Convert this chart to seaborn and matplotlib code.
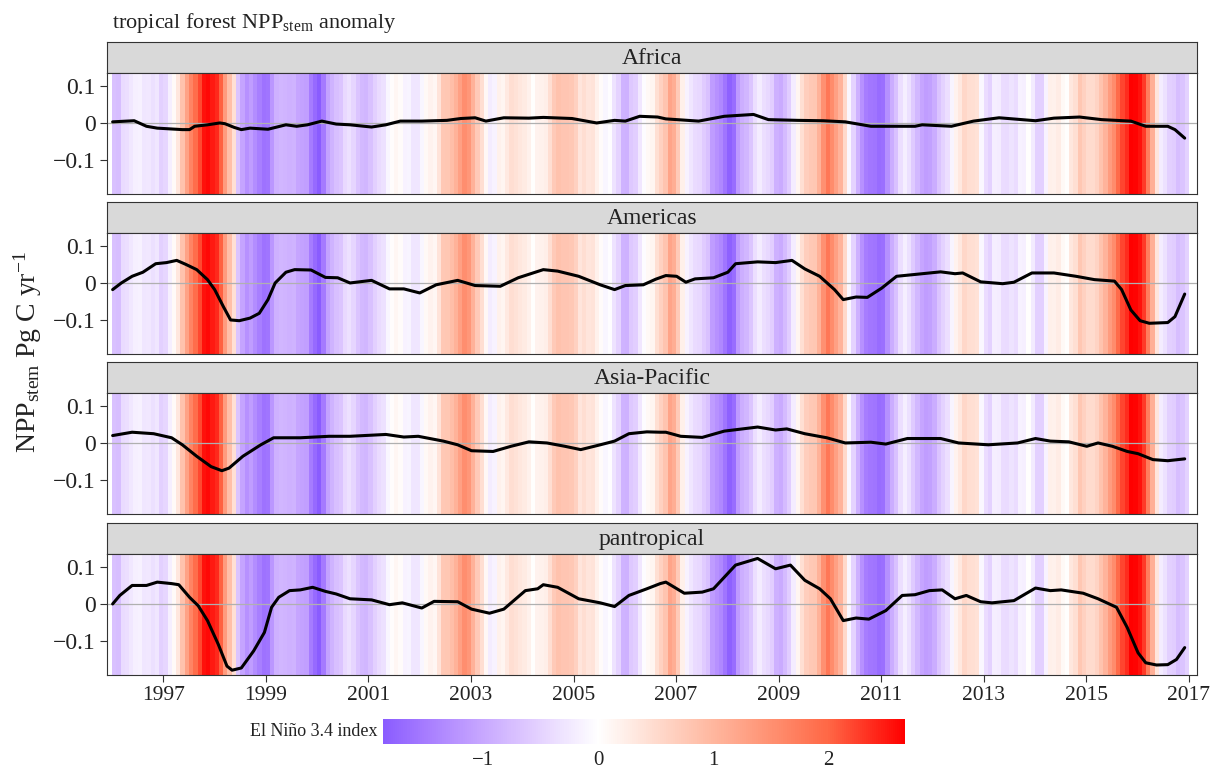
import numpy as np
import matplotlib
matplotlib.use("Agg")
import matplotlib.pyplot as plt
import seaborn as sns
from matplotlib.colors import LinearSegmentedColormap, Normalize

sns.set_theme(style="white")
plt.rcParams["font.family"] = ["Liberation Serif", "DejaVu Serif"]
plt.rcParams["mathtext.fontset"] = "custom"
plt.rcParams["mathtext.rm"] = "Liberation Serif"
plt.rcParams["mathtext.it"] = "Liberation Serif:italic"
plt.rcParams["axes.unicode_minus"] = True

W, H = 1223, 769
TXT = "#222222"
EDGE = "#333333"

regions = ["Africa", "Americas", "Asia-Pacific", "pantropical"]

# El Nino 3.4 index, monthly, Jan 1996 .. Dec 2016 (one row per year)
nino34 = [
    -0.70, -0.74, -0.40, -0.38, -0.26, -0.17, -0.15, -0.29, -0.27, -0.35, -0.29, -0.53,
    -0.46, -0.18, 0.08, 0.33, 0.85, 1.27, 1.65, 1.94, 2.20, 2.55, 2.60, 2.50,
    2.40, 2.04, 1.37, 0.89, 0.43, -0.68, -1.04, -1.26, -1.11, -1.32, -1.47, -1.61,
    -1.58, -1.18, -0.89, -0.84, -0.85, -0.88, -0.87, -1.02, -1.07, -1.10, -1.51, -1.70,
    -1.87, -1.52, -1.06, -0.87, -0.73, -0.65, -0.42, -0.33, -0.47, -0.67, -0.80, -0.84,
    -0.70, -0.53, -0.40, -0.34, -0.11, 0.04, 0.12, 0.06, -0.14, -0.12, -0.29, -0.28,
    -0.11, 0.09, 0.18, 0.13, 0.39, 0.77, 0.78, 0.90, 1.07, 1.29, 1.52, 1.42,
    1.07, 0.72, 0.46, 0.10, -0.22, -0.14, 0.20, 0.14, 0.30, 0.46, 0.41, 0.34,
    0.28, 0.19, 0.02, 0.17, 0.19, 0.23, 0.46, 0.72, 0.85, 0.80, 0.80, 0.77,
    0.64, 0.36, 0.46, 0.35, 0.39, 0.20, 0.05, -0.10, -0.01, -0.31, -0.50, -0.87,
    -0.89, -0.62, -0.54, -0.27, -0.03, 0.09, 0.14, 0.44, 0.64, 0.81, 1.24, 1.12,
    0.72, 0.22, -0.14, -0.28, -0.41, -0.44, -0.58, -0.70, -1.13, -1.26, -1.36, -1.58,
    -1.80, -1.67, -1.16, -0.93, -0.84, -0.66, -0.37, -0.22, -0.38, -0.45, -0.55, -0.88,
    -0.96, -0.78, -0.57, -0.21, 0.15, 0.44, 0.67, 0.77, 0.79, 1.06, 1.50, 1.81,
    1.56, 1.30, 1.05, 0.54, -0.09, -0.50, -0.89, -1.26, -1.48, -1.56, -1.57, -1.68,
    -1.65, -1.27, -0.94, -0.70, -0.37, -0.19, -0.36, -0.61, -0.82, -1.02, -1.12, -1.08,
    -0.94, -0.67, -0.51, -0.38, -0.13, 0.18, 0.32, 0.55, 0.46, 0.44, 0.41, -0.08,
    -0.39, -0.52, -0.20, -0.21, -0.39, -0.40, -0.31, -0.39, -0.16, -0.18, 0.01, -0.23,
    -0.53, -0.53, -0.14, 0.22, 0.19, 0.26, 0.09, 0.01, 0.33, 0.44, 0.79, 0.64,
    0.49, 0.50, 0.61, 0.83, 1.05, 1.35, 1.56, 1.96, 2.21, 2.37, 2.67, 2.65,
    2.55, 2.28, 1.74, 1.10, 0.36, -0.22, -0.33, -0.53, -0.57, -0.74, -0.67, -0.51,
]

africa_yr = [1996.01, 1996.43, 1996.67, 1996.88, 1997.37, 1997.51, 1997.61, 1997.86, 1998.10, 1998.20,
             1998.38, 1998.52, 1998.69, 1999.04, 1999.39, 1999.60, 1999.81, 2000.09, 2000.37, 2000.64,
             2001.06, 2001.34, 2001.62, 2002.04, 2002.53, 2002.80, 2003.08, 2003.29, 2003.64, 2004.13,
             2004.41, 2004.97, 2005.45, 2005.80, 2006.01, 2006.29, 2006.64, 2006.80, 2007.44, 2007.94,
             2008.51, 2008.80, 2009.37, 2009.87, 2010.30, 2010.80, 2011.66, 2011.80, 2012.37, 2012.80,
             2013.30, 2014.01, 2014.37, 2014.87, 2015.30, 2015.87, 2016.16, 2016.59, 2016.73, 2016.92]
africa_npp = [0.003, 0.006, -0.009, -0.014, -0.018, -0.018, -0.009, -0.005, 0.000, -0.002,
              -0.012, -0.018, -0.014, -0.017, -0.005, -0.009, -0.005, 0.005, -0.003, -0.005,
              -0.011, -0.005, 0.005, 0.005, 0.007, 0.012, 0.014, 0.005, 0.014, 0.013,
              0.015, 0.012, 0.000, 0.007, 0.005, 0.018, 0.016, 0.011, 0.005, 0.018,
              0.023, 0.009, 0.007, 0.006, 0.003, -0.009, -0.009, -0.005, -0.009, 0.005,
              0.014, 0.006, 0.013, 0.016, 0.009, 0.005, -0.009, -0.009, -0.018, -0.041]

americas_yr = [1996.01, 1996.18, 1996.39, 1996.60, 1996.85, 1997.06, 1997.26, 1997.44, 1997.65, 1997.86,
               1998.00, 1998.17, 1998.31, 1998.48, 1998.69, 1998.87, 1999.04, 1999.18, 1999.39, 1999.56,
               1999.88, 2000.16, 2000.40, 2000.64, 2001.06, 2001.41, 2001.69, 2002.00, 2002.32, 2002.74,
               2003.08, 2003.57, 2003.92, 2004.41, 2004.69, 2005.10, 2005.52, 2005.80, 2006.01, 2006.36,
               2006.60, 2006.80, 2007.01, 2007.19, 2007.37, 2007.73, 2008.01, 2008.16, 2008.59, 2008.94,
               2009.26, 2009.51, 2009.80, 2010.09, 2010.26, 2010.51, 2010.73, 2011.01, 2011.30, 2011.66,
               2012.16, 2012.44, 2012.59, 2012.94, 2013.37, 2013.59, 2013.94, 2014.37, 2014.80, 2015.16,
               2015.55, 2015.69, 2015.87, 2016.05, 2016.23, 2016.59, 2016.73, 2016.92]
americas_npp = [-0.018, 0.000, 0.018, 0.029, 0.052, 0.055, 0.061, 0.050, 0.036, 0.009,
                -0.018, -0.064, -0.100, -0.102, -0.095, -0.082, -0.045, 0.000, 0.029, 0.036,
                0.035, 0.015, 0.014, 0.000, 0.007, -0.016, -0.016, -0.027, -0.005, 0.007,
                -0.007, -0.009, 0.014, 0.036, 0.032, 0.018, -0.005, -0.018, -0.007, -0.005,
                0.010, 0.020, 0.018, 0.002, 0.011, 0.014, 0.029, 0.052, 0.057, 0.055,
                0.061, 0.038, 0.018, -0.018, -0.045, -0.038, -0.039, -0.014, 0.018, 0.023,
                0.030, 0.025, 0.027, 0.003, -0.002, 0.002, 0.027, 0.027, 0.018, 0.009,
                0.005, -0.018, -0.073, -0.102, -0.109, -0.107, -0.091, -0.030]

asia_yr = [1996.01, 1996.39, 1996.81, 1997.16, 1997.37, 1997.65, 1997.93, 1998.14, 1998.28, 1998.55,
           1998.90, 1999.15, 1999.67, 2000.23, 2000.64, 2001.34, 2001.69, 2001.97, 2002.46, 2002.74,
           2003.01, 2003.43, 2003.78, 2004.13, 2004.48, 2004.83, 2005.14, 2005.52, 2005.80, 2006.08,
           2006.43, 2006.69, 2006.80, 2007.09, 2007.51, 2007.94, 2008.59, 2008.94, 2009.16, 2009.51,
           2009.94, 2010.30, 2010.80, 2011.09, 2011.51, 2012.16, 2012.51, 2013.09, 2013.66, 2014.01,
           2014.30, 2014.66, 2015.01, 2015.23, 2015.51, 2015.80, 2016.01, 2016.30, 2016.59, 2016.92]
asia_npp = [0.020, 0.029, 0.025, 0.014, -0.005, -0.036, -0.064, -0.075, -0.068, -0.036,
            -0.005, 0.014, 0.014, 0.018, 0.018, 0.023, 0.016, 0.018, 0.005, -0.005,
            -0.021, -0.023, -0.009, 0.003, 0.000, -0.009, -0.018, -0.005, 0.005, 0.025,
            0.030, 0.029, 0.029, 0.018, 0.015, 0.032, 0.043, 0.035, 0.038, 0.025,
            0.014, 0.000, 0.002, -0.003, 0.012, 0.012, 0.000, -0.005, 0.000, 0.012,
            0.005, 0.003, -0.009, 0.000, -0.009, -0.023, -0.029, -0.045, -0.048, -0.043]

pantrop_yr = [1996.01, 1996.15, 1996.39, 1996.67, 1996.88, 1997.16, 1997.30, 1997.51, 1997.68, 1997.86,
              1998.07, 1998.24, 1998.34, 1998.52, 1998.76, 1998.97, 1999.11, 1999.25, 1999.46, 1999.67,
              1999.91, 2000.16, 2000.37, 2000.64, 2001.06, 2001.41, 2001.66, 2002.04, 2002.28, 2002.74,
              2003.01, 2003.36, 2003.64, 2004.06, 2004.30, 2004.41, 2004.69, 2005.10, 2005.52, 2005.80,
              2006.08, 2006.43, 2006.69, 2006.80, 2007.16, 2007.51, 2007.73, 2008.16, 2008.59, 2008.94,
              2009.23, 2009.51, 2009.80, 2010.01, 2010.26, 2010.51, 2010.76, 2011.09, 2011.41, 2011.66,
              2011.94, 2012.19, 2012.44, 2012.66, 2012.94, 2013.16, 2013.59, 2014.01, 2014.30, 2014.51,
              2014.94, 2015.23, 2015.59, 2015.80, 2016.01, 2016.16, 2016.37, 2016.59, 2016.76, 2016.92]
pantrop_npp = [0.000, 0.023, 0.050, 0.050, 0.059, 0.055, 0.052, 0.018, -0.005, -0.045,
               -0.109, -0.168, -0.179, -0.173, -0.127, -0.077, -0.009, 0.018, 0.036, 0.038,
               0.045, 0.034, 0.027, 0.014, 0.011, -0.002, 0.003, -0.011, 0.007, 0.006,
               -0.014, -0.025, -0.014, 0.036, 0.041, 0.052, 0.045, 0.014, 0.003, -0.007,
               0.023, 0.041, 0.055, 0.059, 0.029, 0.032, 0.041, 0.105, 0.123, 0.095,
               0.105, 0.064, 0.041, 0.014, -0.045, -0.038, -0.041, -0.018, 0.023, 0.025,
               0.036, 0.038, 0.014, 0.023, 0.006, 0.003, 0.009, 0.043, 0.036, 0.038,
               0.029, 0.014, -0.009, -0.064, -0.132, -0.159, -0.165, -0.164, -0.150, -0.118]

series = {
    "Africa": (africa_yr, africa_npp),
    "Americas": (americas_yr, americas_npp),
    "Asia-Pacific": (asia_yr, asia_npp),
    "pantropical": (pantrop_yr, pantrop_npp),
}

year_ticks = list(range(1997, 2018, 2))
y_ticks = [0.1, 0.0, -0.1]
y_labels = ["0.1", "0", "\u22120.1"]
cbar_ticks = [-1, 0, 1, 2]

# diverging palette: purple -> white -> red (lab-like steps)
vmin, vmax = min(nino34), max(nino34)
nodes = [(-1.87, "#8A5CFF"), (-1.5, "#A77DFF"), (-1.0, "#C8A8FF"), (-0.5, "#E5D3FF"),
         (0.0, "#FFFFFF"), (0.5, "#FFDBCE"), (1.0, "#FFB79F"), (1.5, "#FF9172"),
         (2.0, "#FF6846"), (2.67, "#FF0000")]
cmap = LinearSegmentedColormap.from_list(
    "enso", [((v - vmin) / (vmax - vmin), c) for v, c in nodes])
cmap_norm = Normalize(vmin=vmin, vmax=vmax)

month_edges = 1996 + np.arange(len(nino34) + 1) / 12
xlim = (1995.90, 2017.16)
ylim = (-0.192, 0.135)

fig = plt.figure(figsize=(W / 100, H / 100), dpi=100)

def px_axes(x0, y0, x1, y1):
    return fig.add_axes([x0 / W, 1 - y1 / H, (x1 - x0) / W, (y1 - y0) / H])

panel_tops = [73, 233, 393, 554]
panel_h = 121
strip_h = 31
x0, x1 = 107, 1197

mesh = None
for i, reg in enumerate(regions):
    top = panel_tops[i]
    strip = px_axes(x0, top - strip_h, x1, top)
    strip.set_facecolor("#D9D9D9")
    strip.set_xticks([])
    strip.set_yticks([])
    for s in strip.spines.values():
        s.set_color(EDGE)
        s.set_linewidth(0.8)
    strip.text(0.5, 0.47, reg, ha="center", va="center", fontsize=17, color=TXT,
               transform=strip.transAxes)

    ax = px_axes(x0, top, x1, top + panel_h)
    mesh = ax.pcolormesh(month_edges, [ylim[0] - 1, ylim[1] + 1], np.array([nino34]),
                         cmap=cmap, norm=cmap_norm, shading="flat", rasterized=True)
    ax.axhline(0, color="#B0B0B0", lw=0.9, zorder=2)
    yr, val = series[reg]
    sns.lineplot(x=yr, y=val, ax=ax, color="black", lw=2.2, sort=False,
                 estimator=None, zorder=3)
    ax.set_xlim(*xlim)
    ax.set_ylim(*ylim)
    ax.set_yticks(y_ticks)
    ax.set_yticklabels(y_labels, fontsize=17)
    ax.set_xticks(year_ticks)
    if i == len(regions) - 1:
        ax.set_xticklabels([str(y) for y in year_ticks], fontsize=15.5)
    else:
        ax.set_xticklabels([])
        ax.tick_params(axis="x", length=0)
    ax.set_xlabel("")
    ax.set_ylabel("")
    ax.tick_params(axis="both", direction="out", length=5, width=0.8, color=EDGE,
                   labelcolor=TXT, pad=3, left=True, bottom=(i == len(regions) - 1))
    for s in ax.spines.values():
        s.set_color(EDGE)
        s.set_linewidth(0.8)

fig.text(112 / W, 1 - 28 / H, r"tropical forest NPP$_{\mathrm{stem}}$ anomaly",
         ha="left", va="baseline", fontsize=16, color=TXT)
fig.text(28 / W, 1 - 352 / H, r"NPP$_{\mathrm{stem}}$ Pg C yr$^{-1}$", rotation=90,
         ha="center", va="center", fontsize=20, color=TXT)

cax = px_axes(383, 719, 905, 744)
cb = fig.colorbar(mesh, cax=cax, orientation="horizontal")
cb.set_ticks(cbar_ticks)
cb.set_ticklabels(["\u22121", "0", "1", "2"])
cb.outline.set_visible(False)
cax.tick_params(axis="x", direction="in", length=5, width=0.6, color="white",
                labelsize=15, labelcolor=TXT, pad=5, top=True, bottom=True)
fig.text(378 / W, 1 - 731 / H, "El Ni\u00f1o 3.4 index", ha="right", va="center",
         fontsize=13, color=TXT)

fig.savefig("out.png", dpi=100)
